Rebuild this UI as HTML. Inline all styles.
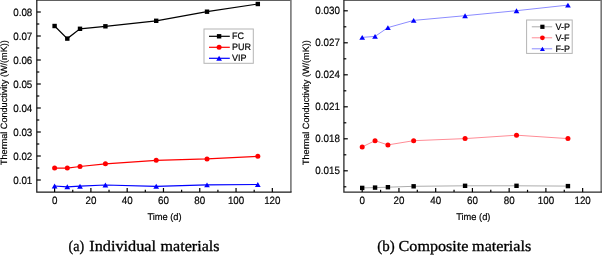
<!DOCTYPE html>
<html><head><meta charset="utf-8"><style>
html,body{margin:0;padding:0;background:#fff;width:602px;height:255px;overflow:hidden}
svg{display:block} text{text-rendering:geometricPrecision}
</style></head><body>
<svg style="will-change:transform" width="602" height="255" viewBox="0 0 602 255">
<path d="M36.6,0.5H290.9" fill="none" stroke="#606060" stroke-width="1.0"/>
<path d="M290.9,0V192.1" fill="none" stroke="#777" stroke-width="1.6"/>
<path d="M36.8,0V192.1H291.6" fill="none" stroke="#1a1a1a" stroke-width="1.25"/>
<path d="M36.8,12h4" stroke="#000" stroke-width="1.2"/>
<text transform="translate(32.30,15.50) scale(1,1.08)" text-anchor="end" font-size="9.8" font-family="Liberation Sans, sans-serif" stroke="#000" stroke-width="0.18" >0.08</text>
<path d="M36.8,36h4" stroke="#000" stroke-width="1.2"/>
<text transform="translate(32.30,39.50) scale(1,1.08)" text-anchor="end" font-size="9.8" font-family="Liberation Sans, sans-serif" stroke="#000" stroke-width="0.18" >0.07</text>
<path d="M36.8,60h4" stroke="#000" stroke-width="1.2"/>
<text transform="translate(32.30,63.50) scale(1,1.08)" text-anchor="end" font-size="9.8" font-family="Liberation Sans, sans-serif" stroke="#000" stroke-width="0.18" >0.06</text>
<path d="M36.8,84h4" stroke="#000" stroke-width="1.2"/>
<text transform="translate(32.30,87.50) scale(1,1.08)" text-anchor="end" font-size="9.8" font-family="Liberation Sans, sans-serif" stroke="#000" stroke-width="0.18" >0.05</text>
<path d="M36.8,108h4" stroke="#000" stroke-width="1.2"/>
<text transform="translate(32.30,111.50) scale(1,1.08)" text-anchor="end" font-size="9.8" font-family="Liberation Sans, sans-serif" stroke="#000" stroke-width="0.18" >0.04</text>
<path d="M36.8,132h4" stroke="#000" stroke-width="1.2"/>
<text transform="translate(32.30,135.50) scale(1,1.08)" text-anchor="end" font-size="9.8" font-family="Liberation Sans, sans-serif" stroke="#000" stroke-width="0.18" >0.03</text>
<path d="M36.8,156h4" stroke="#000" stroke-width="1.2"/>
<text transform="translate(32.30,159.50) scale(1,1.08)" text-anchor="end" font-size="9.8" font-family="Liberation Sans, sans-serif" stroke="#000" stroke-width="0.18" >0.02</text>
<path d="M36.8,180h4" stroke="#000" stroke-width="1.2"/>
<text transform="translate(32.30,183.50) scale(1,1.08)" text-anchor="end" font-size="9.8" font-family="Liberation Sans, sans-serif" stroke="#000" stroke-width="0.18" >0.01</text>
<path d="M36.8,24h2.5" stroke="#000" stroke-width="1.2"/>
<path d="M36.8,48h2.5" stroke="#000" stroke-width="1.2"/>
<path d="M36.8,72h2.5" stroke="#000" stroke-width="1.2"/>
<path d="M36.8,96h2.5" stroke="#000" stroke-width="1.2"/>
<path d="M36.8,120h2.5" stroke="#000" stroke-width="1.2"/>
<path d="M36.8,144h2.5" stroke="#000" stroke-width="1.2"/>
<path d="M36.8,168h2.5" stroke="#000" stroke-width="1.2"/>
<path d="M54.60,192.1v-4.1" stroke="#000" stroke-width="1.2"/>
<text transform="translate(54.60,204.40) scale(1,1.08)" text-anchor="middle" font-size="9.8" font-family="Liberation Sans, sans-serif" stroke="#000" stroke-width="0.18" >0</text>
<path d="M90.89,192.1v-4.1" stroke="#000" stroke-width="1.2"/>
<text transform="translate(90.89,204.40) scale(1,1.08)" text-anchor="middle" font-size="9.8" font-family="Liberation Sans, sans-serif" stroke="#000" stroke-width="0.18" >20</text>
<path d="M127.18,192.1v-4.1" stroke="#000" stroke-width="1.2"/>
<text transform="translate(127.18,204.40) scale(1,1.08)" text-anchor="middle" font-size="9.8" font-family="Liberation Sans, sans-serif" stroke="#000" stroke-width="0.18" >40</text>
<path d="M163.47,192.1v-4.1" stroke="#000" stroke-width="1.2"/>
<text transform="translate(163.47,204.40) scale(1,1.08)" text-anchor="middle" font-size="9.8" font-family="Liberation Sans, sans-serif" stroke="#000" stroke-width="0.18" >60</text>
<path d="M199.76,192.1v-4.1" stroke="#000" stroke-width="1.2"/>
<text transform="translate(199.76,204.40) scale(1,1.08)" text-anchor="middle" font-size="9.8" font-family="Liberation Sans, sans-serif" stroke="#000" stroke-width="0.18" >80</text>
<path d="M236.05,192.1v-4.1" stroke="#000" stroke-width="1.2"/>
<text transform="translate(236.05,204.40) scale(1,1.08)" text-anchor="middle" font-size="9.8" font-family="Liberation Sans, sans-serif" stroke="#000" stroke-width="0.18" >100</text>
<path d="M272.34,192.1v-4.1" stroke="#000" stroke-width="1.2"/>
<text transform="translate(272.34,204.40) scale(1,1.08)" text-anchor="middle" font-size="9.8" font-family="Liberation Sans, sans-serif" stroke="#000" stroke-width="0.18" >120</text>
<path d="M72.75,192.1v-2.3" stroke="#000" stroke-width="1.2"/>
<path d="M109.03,192.1v-2.3" stroke="#000" stroke-width="1.2"/>
<path d="M145.32,192.1v-2.3" stroke="#000" stroke-width="1.2"/>
<path d="M181.62,192.1v-2.3" stroke="#000" stroke-width="1.2"/>
<path d="M217.91,192.1v-2.3" stroke="#000" stroke-width="1.2"/>
<path d="M254.19,192.1v-2.3" stroke="#000" stroke-width="1.2"/>
<text transform="translate(164.50,220.00) scale(1,1.04)" text-anchor="middle" font-size="9.3" font-family="Liberation Sans, sans-serif" stroke="#000" stroke-width="0.18" >Time (d)</text>
<text transform="translate(6.8,102.6) rotate(-90)" text-anchor="middle" font-size="9.1" font-family="Liberation Sans, sans-serif" stroke="#000" stroke-width="0.18">Thermal Conductivity (W/(mK))</text>
<polyline points="54.60,26.00 67.30,38.60 80.00,28.80 105.41,26.30 156.21,20.80 207.02,11.70 257.82,4.00" fill="none" stroke="#000" stroke-width="1.2"/>
<polyline points="54.60,168.10 67.30,168.10 80.00,166.50 105.41,163.80 156.21,160.30 207.02,158.90 257.82,156.30" fill="none" stroke="#f00" stroke-width="1.2"/>
<polyline points="54.60,186.00 67.30,186.80 80.00,186.20 105.41,185.00 156.21,186.30 207.02,184.90 257.82,184.50" fill="none" stroke="#00f" stroke-width="1.2"/>
<rect x="52.40" y="23.80" width="4.4" height="4.4" fill="#000"/>
<rect x="65.10" y="36.40" width="4.4" height="4.4" fill="#000"/>
<rect x="77.80" y="26.60" width="4.4" height="4.4" fill="#000"/>
<rect x="103.21" y="24.10" width="4.4" height="4.4" fill="#000"/>
<rect x="154.01" y="18.60" width="4.4" height="4.4" fill="#000"/>
<rect x="204.82" y="9.50" width="4.4" height="4.4" fill="#000"/>
<rect x="255.62" y="1.80" width="4.4" height="4.4" fill="#000"/>
<circle cx="54.60" cy="168.10" r="2.5" fill="#f00"/>
<circle cx="67.30" cy="168.10" r="2.5" fill="#f00"/>
<circle cx="80.00" cy="166.50" r="2.5" fill="#f00"/>
<circle cx="105.41" cy="163.80" r="2.5" fill="#f00"/>
<circle cx="156.21" cy="160.30" r="2.5" fill="#f00"/>
<circle cx="207.02" cy="158.90" r="2.5" fill="#f00"/>
<circle cx="257.82" cy="156.30" r="2.5" fill="#f00"/>
<path d="M54.60,183.55L57.45,188.45L51.75,188.45Z" fill="#00f"/>
<path d="M67.30,184.35L70.15,189.25L64.45,189.25Z" fill="#00f"/>
<path d="M80.00,183.75L82.85,188.65L77.15,188.65Z" fill="#00f"/>
<path d="M105.41,182.55L108.26,187.45L102.56,187.45Z" fill="#00f"/>
<path d="M156.21,183.85L159.06,188.75L153.36,188.75Z" fill="#00f"/>
<path d="M207.02,182.45L209.87,187.35L204.17,187.35Z" fill="#00f"/>
<path d="M257.82,182.05L260.67,186.95L254.97,186.95Z" fill="#00f"/>
<rect x="204" y="29" width="49.3" height="34.3" fill="#fff" stroke="#b4b4b4" stroke-width="1"/>
<path d="M209,36.3H229.8" stroke="#000" stroke-width="1.2"/>
<rect x="216.90" y="34.10" width="4.4" height="4.4" fill="#000"/>
<text transform="translate(232.00,39.30) scale(1,1.05)" text-anchor="start" font-size="9" font-family="Liberation Sans, sans-serif" stroke="#000" stroke-width="0.18" >FC</text>
<path d="M209,47.3H229.8" stroke="#f00" stroke-width="1.2"/>
<circle cx="219.10" cy="47.30" r="2.5" fill="#f00"/>
<text transform="translate(232.00,50.30) scale(1,1.05)" text-anchor="start" font-size="9" font-family="Liberation Sans, sans-serif" stroke="#000" stroke-width="0.18" >PUR</text>
<path d="M209,58.3H229.8" stroke="#00f" stroke-width="1.2"/>
<path d="M219.10,55.85L221.95,60.75L216.25,60.75Z" fill="#00f"/>
<text transform="translate(232.00,61.30) scale(1,1.05)" text-anchor="start" font-size="9" font-family="Liberation Sans, sans-serif" stroke="#000" stroke-width="0.18" >VIP</text>
<path d="M343.8,0.5H601.2" fill="none" stroke="#606060" stroke-width="1.0"/>
<path d="M601.2,0V192.1" fill="none" stroke="#777" stroke-width="1.6"/>
<path d="M343.9,0V192.1H602" fill="none" stroke="#2a2a2a" stroke-width="1.3"/>
<path d="M343.8,10.8h4" stroke="#000" stroke-width="1.2"/>
<text transform="translate(339.90,14.40) scale(1,1.08)" text-anchor="end" font-size="9.8" font-family="Liberation Sans, sans-serif" stroke="#000" stroke-width="0.18" >0.030</text>
<path d="M343.8,42.8h4" stroke="#000" stroke-width="1.2"/>
<text transform="translate(339.90,46.40) scale(1,1.08)" text-anchor="end" font-size="9.8" font-family="Liberation Sans, sans-serif" stroke="#000" stroke-width="0.18" >0.027</text>
<path d="M343.8,74.8h4" stroke="#000" stroke-width="1.2"/>
<text transform="translate(339.90,78.40) scale(1,1.08)" text-anchor="end" font-size="9.8" font-family="Liberation Sans, sans-serif" stroke="#000" stroke-width="0.18" >0.024</text>
<path d="M343.8,106.8h4" stroke="#000" stroke-width="1.2"/>
<text transform="translate(339.90,110.40) scale(1,1.08)" text-anchor="end" font-size="9.8" font-family="Liberation Sans, sans-serif" stroke="#000" stroke-width="0.18" >0.021</text>
<path d="M343.8,138.8h4" stroke="#000" stroke-width="1.2"/>
<text transform="translate(339.90,142.40) scale(1,1.08)" text-anchor="end" font-size="9.8" font-family="Liberation Sans, sans-serif" stroke="#000" stroke-width="0.18" >0.018</text>
<path d="M343.8,170.8h4" stroke="#000" stroke-width="1.2"/>
<text transform="translate(339.90,174.40) scale(1,1.08)" text-anchor="end" font-size="9.8" font-family="Liberation Sans, sans-serif" stroke="#000" stroke-width="0.18" >0.015</text>
<path d="M343.8,26.8h2.5" stroke="#000" stroke-width="1.2"/>
<path d="M343.8,58.8h2.5" stroke="#000" stroke-width="1.2"/>
<path d="M343.8,90.8h2.5" stroke="#000" stroke-width="1.2"/>
<path d="M343.8,122.8h2.5" stroke="#000" stroke-width="1.2"/>
<path d="M343.8,154.8h2.5" stroke="#000" stroke-width="1.2"/>
<path d="M343.8,186.8h2.5" stroke="#000" stroke-width="1.2"/>
<path d="M362.20,192.1v-4.1" stroke="#000" stroke-width="1.2"/>
<text transform="translate(362.20,204.40) scale(1,1.08)" text-anchor="middle" font-size="9.8" font-family="Liberation Sans, sans-serif" stroke="#000" stroke-width="0.18" >0</text>
<path d="M398.94,192.1v-4.1" stroke="#000" stroke-width="1.2"/>
<text transform="translate(398.94,204.40) scale(1,1.08)" text-anchor="middle" font-size="9.8" font-family="Liberation Sans, sans-serif" stroke="#000" stroke-width="0.18" >20</text>
<path d="M435.68,192.1v-4.1" stroke="#000" stroke-width="1.2"/>
<text transform="translate(435.68,204.40) scale(1,1.08)" text-anchor="middle" font-size="9.8" font-family="Liberation Sans, sans-serif" stroke="#000" stroke-width="0.18" >40</text>
<path d="M472.42,192.1v-4.1" stroke="#000" stroke-width="1.2"/>
<text transform="translate(472.42,204.40) scale(1,1.08)" text-anchor="middle" font-size="9.8" font-family="Liberation Sans, sans-serif" stroke="#000" stroke-width="0.18" >60</text>
<path d="M509.16,192.1v-4.1" stroke="#000" stroke-width="1.2"/>
<text transform="translate(509.16,204.40) scale(1,1.08)" text-anchor="middle" font-size="9.8" font-family="Liberation Sans, sans-serif" stroke="#000" stroke-width="0.18" >80</text>
<path d="M545.90,192.1v-4.1" stroke="#000" stroke-width="1.2"/>
<text transform="translate(545.90,204.40) scale(1,1.08)" text-anchor="middle" font-size="9.8" font-family="Liberation Sans, sans-serif" stroke="#000" stroke-width="0.18" >100</text>
<path d="M582.64,192.1v-4.1" stroke="#000" stroke-width="1.2"/>
<text transform="translate(582.64,204.40) scale(1,1.08)" text-anchor="middle" font-size="9.8" font-family="Liberation Sans, sans-serif" stroke="#000" stroke-width="0.18" >120</text>
<path d="M380.57,192.1v-2.3" stroke="#000" stroke-width="1.2"/>
<path d="M417.31,192.1v-2.3" stroke="#000" stroke-width="1.2"/>
<path d="M454.05,192.1v-2.3" stroke="#000" stroke-width="1.2"/>
<path d="M490.79,192.1v-2.3" stroke="#000" stroke-width="1.2"/>
<path d="M527.53,192.1v-2.3" stroke="#000" stroke-width="1.2"/>
<path d="M564.27,192.1v-2.3" stroke="#000" stroke-width="1.2"/>
<text transform="translate(473.30,220.00) scale(1,1.04)" text-anchor="middle" font-size="9.3" font-family="Liberation Sans, sans-serif" stroke="#000" stroke-width="0.18" >Time (d)</text>
<text transform="translate(308.9,102.6) rotate(-90)" text-anchor="middle" font-size="9.1" font-family="Liberation Sans, sans-serif" stroke="#000" stroke-width="0.18">Thermal Conductivity (W/(mK))</text>
<polyline points="362.20,187.90 375.06,187.60 387.92,187.20 413.64,186.30 465.07,185.80 516.51,185.80 567.94,186.10" fill="none" stroke="#acacac" stroke-width="1"/>
<polyline points="362.20,146.90 375.06,140.70 387.92,144.90 413.64,140.70 465.07,138.60 516.51,135.20 567.94,138.60" fill="none" stroke="#ff8c96" stroke-width="1"/>
<polyline points="362.20,37.40 375.06,36.40 387.92,27.60 413.64,20.40 465.07,15.70 516.51,10.70 567.94,5.10" fill="none" stroke="#8c8cff" stroke-width="1"/>
<rect x="360.00" y="185.70" width="4.4" height="4.4" fill="#000"/>
<rect x="372.86" y="185.40" width="4.4" height="4.4" fill="#000"/>
<rect x="385.72" y="185.00" width="4.4" height="4.4" fill="#000"/>
<rect x="411.44" y="184.10" width="4.4" height="4.4" fill="#000"/>
<rect x="462.87" y="183.60" width="4.4" height="4.4" fill="#000"/>
<rect x="514.31" y="183.60" width="4.4" height="4.4" fill="#000"/>
<rect x="565.74" y="183.90" width="4.4" height="4.4" fill="#000"/>
<circle cx="362.20" cy="146.90" r="2.5" fill="#f00"/>
<circle cx="375.06" cy="140.70" r="2.5" fill="#f00"/>
<circle cx="387.92" cy="144.90" r="2.5" fill="#f00"/>
<circle cx="413.64" cy="140.70" r="2.5" fill="#f00"/>
<circle cx="465.07" cy="138.60" r="2.5" fill="#f00"/>
<circle cx="516.51" cy="135.20" r="2.5" fill="#f00"/>
<circle cx="567.94" cy="138.60" r="2.5" fill="#f00"/>
<path d="M362.20,34.95L365.05,39.85L359.35,39.85Z" fill="#00f"/>
<path d="M375.06,33.95L377.91,38.85L372.21,38.85Z" fill="#00f"/>
<path d="M387.92,25.15L390.77,30.05L385.07,30.05Z" fill="#00f"/>
<path d="M413.64,17.95L416.49,22.85L410.79,22.85Z" fill="#00f"/>
<path d="M465.07,13.25L467.92,18.15L462.22,18.15Z" fill="#00f"/>
<path d="M516.51,8.25L519.36,13.15L513.66,13.15Z" fill="#00f"/>
<path d="M567.94,2.65L570.79,7.55L565.09,7.55Z" fill="#00f"/>
<rect x="526.6" y="20" width="45.6" height="33.4" fill="#fff" stroke="#b4b4b4" stroke-width="1"/>
<path d="M531.8,26.8H552.2" stroke="#acacac" stroke-width="1"/>
<rect x="540.30" y="24.70" width="4.2" height="4.2" fill="#000"/>
<text transform="translate(555.40,29.60) scale(1,1.05)" text-anchor="start" font-size="9" font-family="Liberation Sans, sans-serif" stroke="#000" stroke-width="0.18" >V-P</text>
<path d="M531.8,37.8H552.2" stroke="#ff8c96" stroke-width="1"/>
<circle cx="542.40" cy="37.80" r="2.4" fill="#f00"/>
<text transform="translate(555.40,40.60) scale(1,1.05)" text-anchor="start" font-size="9" font-family="Liberation Sans, sans-serif" stroke="#000" stroke-width="0.18" >V-F</text>
<path d="M531.8,48.8H552.2" stroke="#8c8cff" stroke-width="1"/>
<path d="M542.40,46.65L544.90,50.95L539.90,50.95Z" fill="#00f"/>
<text transform="translate(555.40,51.60) scale(1,1.05)" text-anchor="start" font-size="9" font-family="Liberation Sans, sans-serif" stroke="#000" stroke-width="0.18" >F-P</text>
<text x="68.6" y="251.2" font-size="15.3" textLength="15.6" lengthAdjust="spacingAndGlyphs" font-family="Liberation Serif, serif" stroke="#000" stroke-width="0.32">(a)</text>
<text x="89.3" y="251.2" font-size="15.3" textLength="66.8" lengthAdjust="spacingAndGlyphs" font-family="Liberation Serif, serif" stroke="#000" stroke-width="0.32">Individual</text>
<text x="160.6" y="251.2" font-size="15.3" textLength="58.9" lengthAdjust="spacingAndGlyphs" font-family="Liberation Serif, serif" stroke="#000" stroke-width="0.32">materials</text>
<text x="377.3" y="251.2" font-size="15.3" textLength="17.4" lengthAdjust="spacingAndGlyphs" font-family="Liberation Serif, serif" stroke="#000" stroke-width="0.32">(b)</text>
<text x="398.6" y="251.2" font-size="15.3" textLength="69.9" lengthAdjust="spacingAndGlyphs" font-family="Liberation Serif, serif" stroke="#000" stroke-width="0.32">Composite</text>
<text x="472.1" y="251.2" font-size="15.3" textLength="59.1" lengthAdjust="spacingAndGlyphs" font-family="Liberation Serif, serif" stroke="#000" stroke-width="0.32">materials</text>
</svg>
</body></html>
